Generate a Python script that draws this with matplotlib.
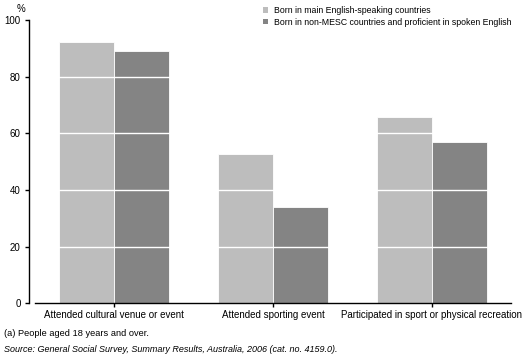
import matplotlib.pyplot as plt
import numpy as np

plt.rcParams['font.family'] = ['Liberation Sans', 'DejaVu Sans']

# values (%)
categories = ['Attended cultural venue or event', 'Attended sporting event',
              'Participated in sport or physical recreation']
english_speaking = [92.4, 52.6, 65.7]
non_mesc = [89.1, 34.1, 56.8]
series_names = ['Born in main English-speaking countries',
                'Born in non-MESC countries and proficient in spoken English']
yticks = [0, 20, 40, 60, 80, 100]

W, H = 529, 363
fig = plt.figure(figsize=(W / 100, H / 100), dpi=100)
ax = fig.add_axes([35 / W, 1 - 303.3 / H, (511 - 35) / W, (303.3 - 20) / H])

x = np.arange(len(categories))
bw = 0.347
ax.bar(x - bw / 2, english_speaking, bw, color='#bdbdbd', edgecolor='white', linewidth=0.6,
       label=series_names[0], zorder=1)
ax.bar(x + bw / 2, non_mesc, bw, color='#848484', edgecolor='white', linewidth=0.6,
       label=series_names[1], zorder=1)

ax.set_xlim(-0.5, 2.5)
ax.set_ylim(0, 100)
ax.set_yticks(yticks)
ax.set_xticks(x)
ax.set_xticklabels(categories, fontsize=7)
ax.tick_params(axis='y', labelsize=7, length=3, width=1, pad=3)
ax.tick_params(axis='x', length=3, width=1, pad=2)

for v in yticks[1:-1]:
    ax.axhline(v, color='white', linewidth=1, zorder=2)

for s in ['top', 'right']:
    ax.spines[s].set_visible(False)
ax.spines['left'].set_position(('outward', 4.3))
ax.spines['left'].set_linewidth(1)
ax.spines['bottom'].set_linewidth(1)
ax.spines['bottom'].set_zorder(3)

fig.text(17 / W, 1 - 9 / H, '%', fontsize=7, va='center')

leg = ax.legend(loc='upper left', bbox_to_anchor=(263 / W, 1 - 6 / H), bbox_transform=fig.transFigure,
                frameon=False, fontsize=6.3, handlelength=0.6, handleheight=0.6,
                handletextpad=0.6, labelspacing=0.3, borderaxespad=0, borderpad=0)
for h in leg.legend_handles:
    h.set_edgecolor('none')

fig.text(4 / W, 1 - 333 / H, '(a) People aged 18 years and over.', fontsize=6.7, va='center')
fig.text(4 / W, 1 - 350 / H,
         'Source: General Social Survey, Summary Results, Australia, 2006 (cat. no. 4159.0).',
         fontsize=6.5, va='center', style='italic')

fig.savefig('out.png', dpi=100)
